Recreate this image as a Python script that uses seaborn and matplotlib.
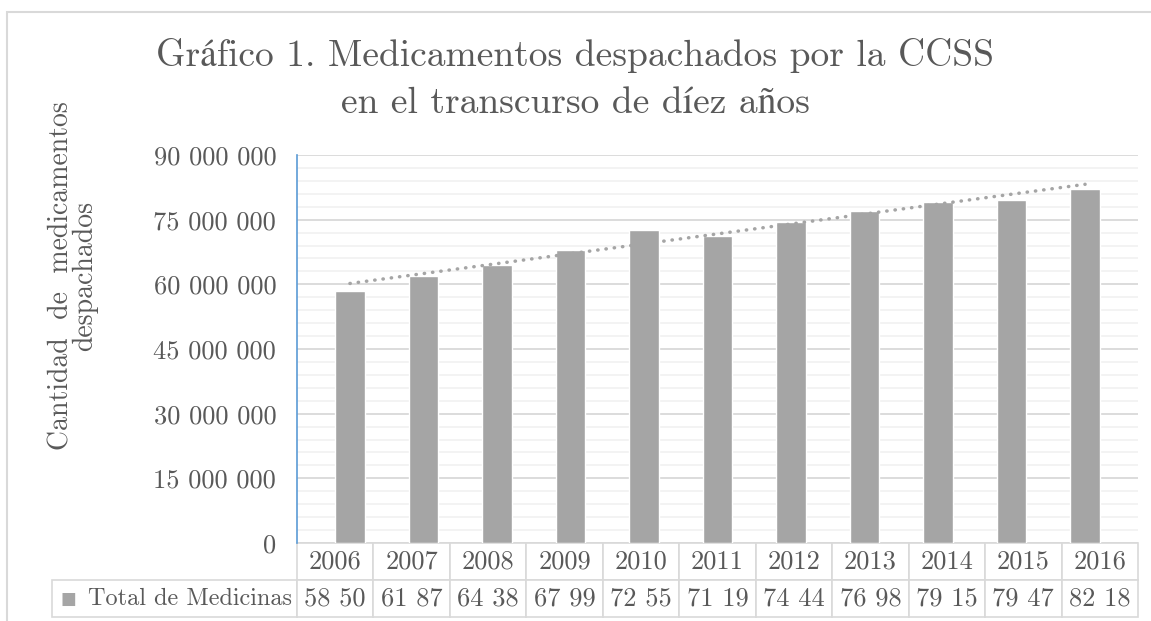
import numpy as np
import pandas as pd
import matplotlib.pyplot as plt
import seaborn as sns
from matplotlib.ticker import MultipleLocator, FuncFormatter
from matplotlib.patches import Rectangle

# --- Data ---
years = ["2006", "2007", "2008", "2009", "2010", "2011",
         "2012", "2013", "2014", "2015", "2016"]
totals = [58_504_000, 61_873_000, 64_384_000, 67_992_000, 72_553_000, 71_192_000,
          74_441_000, 76_983_000, 79_152_000, 79_471_000, 82_184_000]
series_name = "Total de Medicinas"
title = "Gráfico 1. Medicamentos despachados por la CCSS\nen el transcurso de díez años"
y_label = "Cantidad  de  medicamentos\ndespachados"
# -------------

BAR = "#A5A5A5"
TXT = "#595959"
GRID = "#D9D9D9"
MINOR = "#F2F2F2"

W, H = 1151, 621
PLOT_L, PLOT_R, PLOT_T, PLOT_B = 297, 1138, 155, 543
ROW_H = 37
LABEL_L = 52

sns.set_theme(style="white")
# Computer Modern look; accented letters fall back to STIX
plt.rcParams['font.family'] = ['cmr10', 'STIXGeneral', 'DejaVu Serif']
plt.rcParams['axes.formatter.use_mathtext'] = True
plt.rcParams['axes.unicode_minus'] = False

fig = plt.figure(figsize=(W / 100, H / 100), dpi=100)
pw, ph = PLOT_R - PLOT_L, PLOT_B - PLOT_T
ax = fig.add_axes([PLOT_L / W, 1 - PLOT_B / H, pw / W, ph / H])

df = pd.DataFrame({"Year": years, "Total": totals})
sns.barplot(data=df, x="Year", y="Total", color=BAR, width=0.4,
            saturation=1, ax=ax, zorder=3)

# linear trend line (dotted)
x = np.arange(len(years))
coef = np.polyfit(x, totals, 1)
ax.plot(x, np.polyval(coef, x), color=BAR, lw=2.5,
        linestyle=(0, (0.1, 2.3)), dash_capstyle='round', zorder=4)

ax.set_ylim(0, 90_000_000)
ax.yaxis.set_major_locator(MultipleLocator(15_000_000))
ax.yaxis.set_minor_locator(MultipleLocator(3_000_000))
ax.yaxis.set_major_formatter(FuncFormatter(lambda v, p: f"{int(v):,}".replace(",", " ")))
ax.grid(which='major', axis='y', color=GRID, lw=1.3)
ax.grid(which='minor', axis='y', color=MINOR, lw=1.3)
ax.set_axisbelow(True)
ax.tick_params(axis='y', which='both', length=0, pad=15, labelsize=19, labelcolor=TXT)
ax.tick_params(axis='x', length=0, labelbottom=False)
ax.set_xlabel('')
ax.set_ylabel('')
for s in ['top', 'right', 'bottom']:
    ax.spines[s].set_visible(False)
ax.spines['left'].set_color('#5B9BD5')
ax.spines['left'].set_linewidth(1.2)

# data table under the chart
value_labels = [f"{v:,}".replace(",", " ")[:5] for v in totals]
cell_text = [[""] + years, [series_name] + value_labels]
tbl = ax.table(cellText=cell_text, cellLoc='center',
               bbox=[(LABEL_L - PLOT_L) / pw, -2 * ROW_H / ph,
                     (PLOT_R - LABEL_L) / pw, 2 * ROW_H / ph])
tbl.auto_set_font_size(False)
tbl.set_fontsize(19)
for (r, c), cell in tbl.get_celld().items():
    cell.set_edgecolor(GRID)
    cell.set_linewidth(1.2)
    cell.get_text().set_color(TXT)
    cell.set_width((PLOT_L - LABEL_L) if c == 0 else pw / len(years))
tbl[0, 0].visible_edges = 'open'
tbl[1, 0].PAD = 0.02
tbl[1, 0].get_text().set_ha('right')
tbl[1, 0].get_text().set_fontsize(17.5)

# legend key square
ax.text((LABEL_L + 8 - PLOT_L) / pw, -1.5 * ROW_H / ph, "■", color=BAR, fontsize=12,
        family='DejaVu Sans', ha='left', va='center', transform=ax.transAxes, clip_on=False)

fig.text(0.5, 1 - 79 / H, title, ha='center', va='center', fontsize=27,
         color=TXT, linespacing=1.5)
fig.text(73 / W, 1 - 276 / H, y_label, rotation=90, ha='center', va='center',
         multialignment='center', fontsize=20, color=TXT, linespacing=0.85)

fig.add_artist(Rectangle((7 / W, -0.1), 1.2, 1.1 - 12 / H, transform=fig.transFigure,
                         fill=False, edgecolor=GRID, lw=1.5))

fig.savefig('out.png', dpi=100)
